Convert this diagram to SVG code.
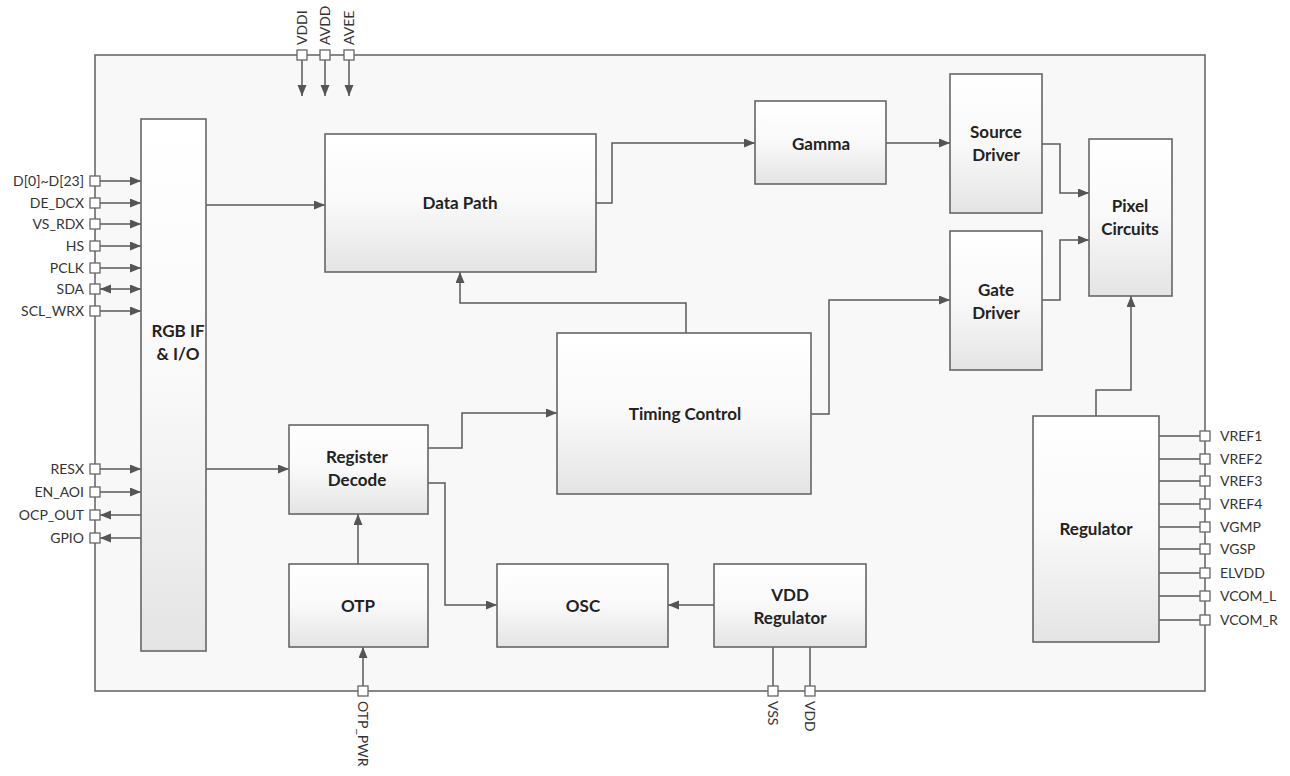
<svg xmlns="http://www.w3.org/2000/svg" width="1290" height="776" viewBox="0 0 1290 776">
<defs>
<linearGradient id="g" x1="0" y1="0" x2="0" y2="1">
<stop offset="0" stop-color="#ffffff"/>
<stop offset="0.5" stop-color="#f9f9f9"/>
<stop offset="1" stop-color="#e4e4e4"/>
</linearGradient>
<marker id="ar" markerUnits="userSpaceOnUse" markerWidth="12" markerHeight="10" refX="11" refY="4.5" orient="auto-start-reverse">
<path d="M0,0 L11,4.5 L0,9 z" fill="#555"/>
</marker>
<style>
.chip{fill:#f8f8f8;stroke:#6a6a6a;stroke-width:1.6}
.blk{fill:url(#g);stroke:#666;stroke-width:1.6}
.pin{fill:#fff;stroke:#666;stroke-width:1.3}
.ln{fill:none;stroke:#5a5a5a;stroke-width:1.5}
.ar{marker-end:url(#ar)}
.t{font-family:Lato,"Liberation Sans",sans-serif;font-weight:bold;font-size:17px;fill:#222;text-anchor:middle}
.p{font-family:Lato,"Liberation Sans",sans-serif;font-size:14px;fill:#333}
.pr{text-anchor:end}
</style>
</defs>
<rect width="1290" height="776" fill="#fff"/>
<rect id="chip" class="chip" x="95" y="55" width="1110" height="636"/>

<g id="connectors">
<path class="ln ar" d="M302,60 V96"/>
<path class="ln ar" d="M325,60 V96"/>
<path class="ln ar" d="M349,60 V96"/>
<path class="ln ar" d="M100,181 H141"/>
<path class="ln ar" d="M100,203 H141"/>
<path class="ln ar" d="M100,224 H141"/>
<path class="ln ar" d="M100,246 H141"/>
<path class="ln ar" d="M100,268 H141"/>
<path class="ln ar" d="M100,289 H141" marker-start="url(#ar)"/>
<path class="ln ar" d="M100,311 H141"/>
<path class="ln ar" d="M100,469 H141"/>
<path class="ln ar" d="M100,492 H141"/>
<path class="ln ar" d="M141,515 H100"/>
<path class="ln ar" d="M141,538 H100"/>
<path class="ln ar" d="M206,205 H325"/>
<path class="ln ar" d="M596,203 H612 V143 H755"/>
<path class="ln ar" d="M886,143 H950"/>
<path class="ln ar" d="M1042,144 H1060 V193 H1089"/>
<path class="ln ar" d="M1042,300 H1060 V240 H1089"/>
<path class="ln ar" d="M686,333 V303 H460 V272"/>
<path class="ln ar" d="M811,414 H829 V300 H950"/>
<path class="ln ar" d="M206,469 H289"/>
<path class="ln ar" d="M428,448 H462 V413 H557"/>
<path class="ln ar" d="M428,483 H445 V605 H497"/>
<path class="ln ar" d="M358,564 V514"/>
<path class="ln ar" d="M363,686 V647"/>
<path class="ln ar" d="M714,605 H668"/>
<path class="ln" d="M773,647 V686"/>
<path class="ln" d="M810,647 V686"/>
<path class="ln ar" d="M1096,416 V390 H1131 V296"/>
<path class="ln" d="M1159,436 H1200 M1159,459 H1200 M1159,481 H1200 M1159,504 H1200 M1159,527 H1200 M1159,549 H1200 M1159,573 H1200 M1159,596 H1200 M1159,620 H1200"/>
</g>

<g id="RGB_IF"><rect class="blk" x="141" y="119" width="65" height="532"/><text class="t" x="178" y="337">RGB IF</text><text class="t" x="178" y="360">&amp; I/O</text></g>
<g id="DataPath"><rect class="blk" x="325" y="134" width="271" height="138"/><text class="t" x="460" y="209">Data Path</text></g>
<g id="Gamma"><rect class="blk" x="755" y="101" width="131" height="83"/><text class="t" x="821" y="150">Gamma</text></g>
<g id="SourceDriver"><rect class="blk" x="950" y="74" width="92" height="139"/><text class="t" x="996" y="138">Source</text><text class="t" x="996" y="161">Driver</text></g>
<g id="GateDriver"><rect class="blk" x="950" y="231" width="92" height="139"/><text class="t" x="996" y="296">Gate</text><text class="t" x="996" y="319">Driver</text></g>
<g id="PixelCircuits"><rect class="blk" x="1089" y="139" width="83" height="157"/><text class="t" x="1130" y="212">Pixel</text><text class="t" x="1130" y="235">Circuits</text></g>
<g id="TimingControl"><rect class="blk" x="557" y="333" width="254" height="161"/><text class="t" x="685" y="420">Timing Control</text></g>
<g id="RegisterDecode"><rect class="blk" x="289" y="425" width="139" height="89"/><text class="t" x="357" y="463">Register</text><text class="t" x="357" y="486">Decode</text></g>
<g id="OTP"><rect class="blk" x="289" y="564" width="139" height="83"/><text class="t" x="358" y="612">OTP</text></g>
<g id="OSC"><rect class="blk" x="497" y="564" width="171" height="83"/><text class="t" x="583" y="612">OSC</text></g>
<g id="VDDRegulator"><rect class="blk" x="714" y="564" width="152" height="83"/><text class="t" x="790" y="601">VDD</text><text class="t" x="790" y="624">Regulator</text></g>
<g id="Regulator"><rect class="blk" x="1033" y="416" width="126" height="226"/><text class="t" x="1096" y="535">Regulator</text></g>

<g id="pins-top">
<rect class="pin" x="297" y="50" width="10" height="10"/><text class="p" transform="translate(307,45) rotate(-90)">VDDI</text>
<rect class="pin" x="320" y="50" width="10" height="10"/><text class="p" transform="translate(330,45) rotate(-90)">AVDD</text>
<rect class="pin" x="344" y="50" width="10" height="10"/><text class="p" transform="translate(354,45) rotate(-90)">AVEE</text>
</g>
<g id="pins-left">
<rect class="pin" x="90" y="176" width="10" height="10"/><text class="p pr" x="84" y="186">D[0]~D[23]</text>
<rect class="pin" x="90" y="198" width="10" height="10"/><text class="p pr" x="84" y="208">DE_DCX</text>
<rect class="pin" x="90" y="219" width="10" height="10"/><text class="p pr" x="84" y="229">VS_RDX</text>
<rect class="pin" x="90" y="241" width="10" height="10"/><text class="p pr" x="84" y="251">HS</text>
<rect class="pin" x="90" y="263" width="10" height="10"/><text class="p pr" x="84" y="273">PCLK</text>
<rect class="pin" x="90" y="284" width="10" height="10"/><text class="p pr" x="84" y="294">SDA</text>
<rect class="pin" x="90" y="306" width="10" height="10"/><text class="p pr" x="84" y="316">SCL_WRX</text>
<rect class="pin" x="90" y="464" width="10" height="10"/><text class="p pr" x="84" y="474">RESX</text>
<rect class="pin" x="90" y="487" width="10" height="10"/><text class="p pr" x="84" y="497">EN_AOI</text>
<rect class="pin" x="90" y="510" width="10" height="10"/><text class="p pr" x="84" y="520">OCP_OUT</text>
<rect class="pin" x="90" y="533" width="10" height="10"/><text class="p pr" x="84" y="543">GPIO</text>
</g>
<g id="pins-right">
<rect class="pin" x="1200" y="431" width="10" height="10"/><text class="p" x="1220" y="441">VREF1</text>
<rect class="pin" x="1200" y="454" width="10" height="10"/><text class="p" x="1220" y="464">VREF2</text>
<rect class="pin" x="1200" y="476" width="10" height="10"/><text class="p" x="1220" y="486">VREF3</text>
<rect class="pin" x="1200" y="499" width="10" height="10"/><text class="p" x="1220" y="509">VREF4</text>
<rect class="pin" x="1200" y="522" width="10" height="10"/><text class="p" x="1220" y="532">VGMP</text>
<rect class="pin" x="1200" y="544" width="10" height="10"/><text class="p" x="1220" y="554">VGSP</text>
<rect class="pin" x="1200" y="568" width="10" height="10"/><text class="p" x="1220" y="578">ELVDD</text>
<rect class="pin" x="1200" y="591" width="10" height="10"/><text class="p" x="1220" y="601">VCOM_L</text>
<rect class="pin" x="1200" y="615" width="10" height="10"/><text class="p" x="1220" y="625">VCOM_R</text>
</g>
<g id="pins-bottom">
<rect class="pin" x="358" y="686" width="10" height="10"/><text class="p" transform="translate(358,701) rotate(90)">OTP_PWR</text>
<rect class="pin" x="768" y="686" width="10" height="10"/><text class="p" transform="translate(768,701) rotate(90)">VSS</text>
<rect class="pin" x="805" y="686" width="10" height="10"/><text class="p" transform="translate(805,701) rotate(90)">VDD</text>
</g>
</svg>
